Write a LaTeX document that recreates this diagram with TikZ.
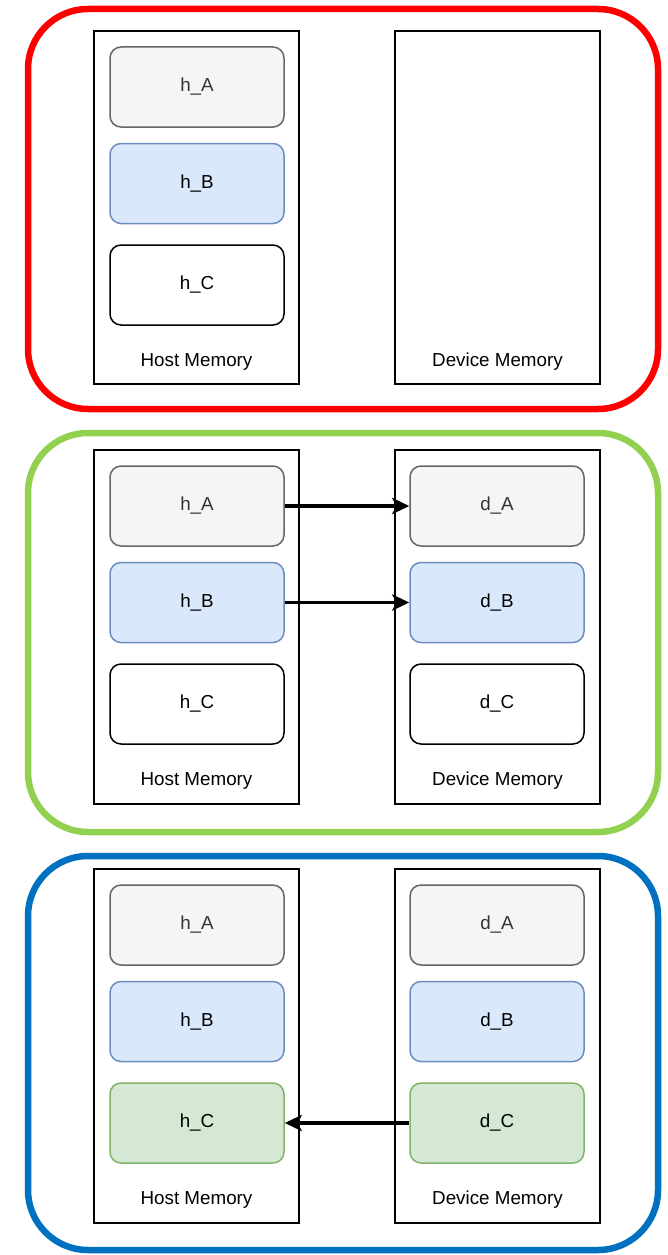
\documentclass[tikz,border=0pt]{standalone}
\usepackage{fontspec}
\setmainfont{Liberation Sans}
\usetikzlibrary{arrows.meta}
\definecolor{frameRed}{HTML}{FF0000}
\definecolor{frameGreen}{HTML}{92D050}
\definecolor{frameBlue}{HTML}{0070C0}
\definecolor{grayFill}{HTML}{F5F5F5}
\definecolor{grayLine}{HTML}{666666}
\definecolor{grayText}{HTML}{333333}
\definecolor{blueFill}{HTML}{DAE8FC}
\definecolor{blueLine}{HTML}{6C8EBF}
\definecolor{greenFill}{HTML}{D5E8D4}
\definecolor{greenLine}{HTML}{82B366}
\tikzset{
  frame/.style={draw, line width=6.5pt, rounded corners=60pt},
  memory/.style={draw, line width=1.5pt, fill=white},
  memlabel/.style={font=\fontsize{18.8}{22}\selectfont, inner sep=0pt},
  block/.style={draw, line width=1.5pt, rounded corners=11pt, minimum width=174pt,
    minimum height=80pt, inner sep=0pt, font=\fontsize{18.8}{22}\selectfont},
  grayblock/.style={block, fill=grayFill, draw=grayLine, text=grayText},
  blueblock/.style={block, fill=blueFill, draw=blueLine},
  plainblock/.style={block, fill=white, draw=black},
  greenblock/.style={block, fill=greenFill, draw=greenLine},
  copyarrow/.style={line width=3.2pt, -{Stealth[length=17pt,width=16pt,inset=4pt]}},
}
\begin{document}
\begin{tikzpicture}[x=1pt,y=-1pt]
\useasboundingbox (0,0) rectangle (668,1255);

% stage 1: data on the host only
\draw[frame, draw=frameRed] (28,9) rectangle (658,409);
\draw[memory] (94,31) rectangle (299,384);
\draw[memory] (395,31) rectangle (600,384);
\node[memlabel] (hostlab1) at (196.5,362) {Host Memory};
\node[memlabel] (devlab1) at (497.5,362) {Device Memory};
\node[grayblock] (hA1) at (197,87) {h\_A};
\node[blueblock] (hB1) at (197,183.5) {h\_B};
\node[plainblock] (hC1) at (197,285) {h\_C};

% stage 2: inputs copied to the device
\draw[frame, draw=frameGreen] (28,433) rectangle (658,832);
\draw[memory] (94,450) rectangle (299,804);
\draw[memory] (395,450) rectangle (600,804);
\node[memlabel] (hostlab2) at (196.5,781) {Host Memory};
\node[memlabel] (devlab2) at (497.5,781) {Device Memory};
\node[grayblock] (hA2) at (197,506) {h\_A};
\node[blueblock] (hB2) at (197,602.5) {h\_B};
\node[plainblock] (hC2) at (197,704) {h\_C};
\node[grayblock] (dA2) at (497,506) {d\_A};
\node[blueblock] (dB2) at (497,602.5) {d\_B};
\node[plainblock] (dC2) at (497,704) {d\_C};
\draw[copyarrow] (hA2.east) -- (dA2.west);
\draw[copyarrow] (hB2.east) -- (dB2.west);

% stage 3: result copied back to the host
\draw[frame, draw=frameBlue] (28,856) rectangle (658,1250);
\draw[memory] (94,869) rectangle (299,1223);
\draw[memory] (395,869) rectangle (600,1223);
\node[memlabel] (hostlab3) at (196.5,1200) {Host Memory};
\node[memlabel] (devlab3) at (497.5,1200) {Device Memory};
\node[grayblock] (hA3) at (197,925) {h\_A};
\node[blueblock] (hB3) at (197,1021.5) {h\_B};
\node[greenblock] (hC3) at (197,1123) {h\_C};
\node[grayblock] (dA3) at (497,925) {d\_A};
\node[blueblock] (dB3) at (497,1021.5) {d\_B};
\node[greenblock] (dC3) at (497,1123) {d\_C};
\draw[copyarrow] (dC3.west) -- (hC3.east);
\end{tikzpicture}
\end{document}
